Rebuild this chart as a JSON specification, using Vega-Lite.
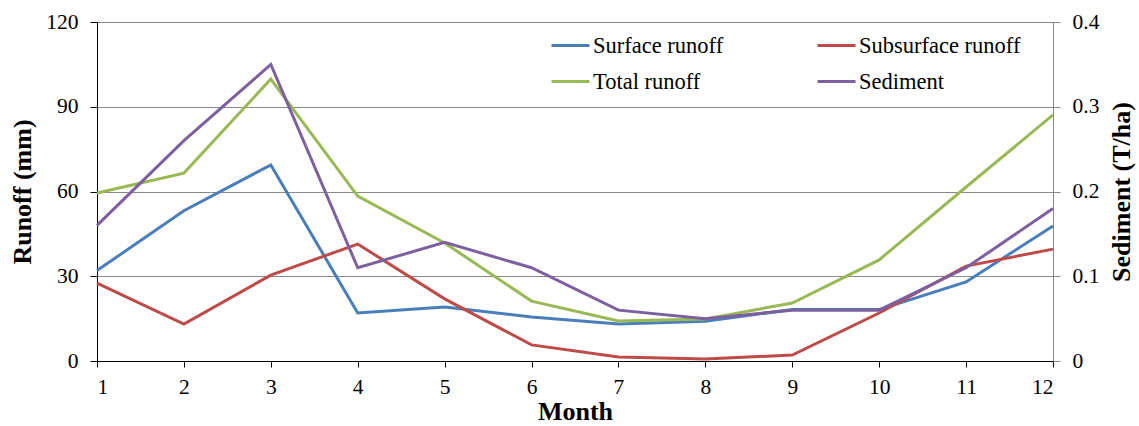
{
  "$schema": "https://vega.github.io/schema/vega-lite/v6.json",
  "autosize": "none",
  "width": 956,
  "height": 339,
  "padding": {"left": 97, "top": 22, "right": 86, "bottom": 65},
  "background": "white",
  "config": {
    "font": "Times New Roman, Liberation Serif, serif",
    "view": {"stroke": "#000000", "strokeWidth": 1},
    "axis": {"labelFont": "Times New Roman, Liberation Serif, serif", "titleFont": "Times New Roman, Liberation Serif, serif", "labelFontSize": 21.5, "titleFontSize": 26, "titleFontWeight": "bold", "labelColor": "#000", "titleColor": "#000", "labelFontWeight": "normal"},
    "legend": {"labelFont": "Times New Roman, Liberation Serif, serif", "labelFontSize": 22.5, "labelColor": "#000", "labelLimit": 400}
  },
  "data": {"values": [
    {"month": 1, "series": "Surface runoff", "value": 32},
    {"month": 2, "series": "Surface runoff", "value": 53.2},
    {"month": 3, "series": "Surface runoff", "value": 69.4},
    {"month": 4, "series": "Surface runoff", "value": 17},
    {"month": 5, "series": "Surface runoff", "value": 19.1},
    {"month": 6, "series": "Surface runoff", "value": 15.6},
    {"month": 7, "series": "Surface runoff", "value": 13.1},
    {"month": 8, "series": "Surface runoff", "value": 14.1},
    {"month": 9, "series": "Surface runoff", "value": 18.2},
    {"month": 10, "series": "Surface runoff", "value": 18.2},
    {"month": 11, "series": "Surface runoff", "value": 28},
    {"month": 12, "series": "Surface runoff", "value": 47.8},
    {"month": 1, "series": "Subsurface runoff", "value": 27.6},
    {"month": 2, "series": "Subsurface runoff", "value": 13.1},
    {"month": 3, "series": "Subsurface runoff", "value": 30.4},
    {"month": 4, "series": "Subsurface runoff", "value": 41.4},
    {"month": 5, "series": "Subsurface runoff", "value": 22},
    {"month": 6, "series": "Subsurface runoff", "value": 5.7},
    {"month": 7, "series": "Subsurface runoff", "value": 1.4},
    {"month": 8, "series": "Subsurface runoff", "value": 0.7},
    {"month": 9, "series": "Subsurface runoff", "value": 2.1},
    {"month": 10, "series": "Subsurface runoff", "value": 17},
    {"month": 11, "series": "Subsurface runoff", "value": 33.6},
    {"month": 12, "series": "Subsurface runoff", "value": 39.6},
    {"month": 1, "series": "Total runoff", "value": 59.5},
    {"month": 2, "series": "Total runoff", "value": 66.5},
    {"month": 3, "series": "Total runoff", "value": 99.8},
    {"month": 4, "series": "Total runoff", "value": 58.4},
    {"month": 5, "series": "Total runoff", "value": 41.8},
    {"month": 6, "series": "Total runoff", "value": 21.2},
    {"month": 7, "series": "Total runoff", "value": 14.2},
    {"month": 8, "series": "Total runoff", "value": 14.9},
    {"month": 9, "series": "Total runoff", "value": 20.5},
    {"month": 10, "series": "Total runoff", "value": 35.8},
    {"month": 11, "series": "Total runoff", "value": 61.6},
    {"month": 12, "series": "Total runoff", "value": 87.1},
    {"month": 1, "series": "Sediment", "value": 0.16},
    {"month": 2, "series": "Sediment", "value": 0.26},
    {"month": 3, "series": "Sediment", "value": 0.35},
    {"month": 4, "series": "Sediment", "value": 0.11},
    {"month": 5, "series": "Sediment", "value": 0.14},
    {"month": 6, "series": "Sediment", "value": 0.11},
    {"month": 7, "series": "Sediment", "value": 0.06},
    {"month": 8, "series": "Sediment", "value": 0.05},
    {"month": 9, "series": "Sediment", "value": 0.06},
    {"month": 10, "series": "Sediment", "value": 0.06},
    {"month": 11, "series": "Sediment", "value": 0.11},
    {"month": 12, "series": "Sediment", "value": 0.18}
  ]},
  "encoding": {
    "x": {"field": "month", "type": "quantitative", "scale": {"domain": [1, 12], "nice": false},
      "axis": {"title": "Month", "values": [1,2,3,4,5,6,7,8,9,10,11,12], "grid": false, "domainColor": "#000", "tickColor": "#000", "tickSize": 6, "labelPadding": 9, "titlePadding": 1, "format": "d"}},
    "color": {"field": "series", "type": "nominal",
      "scale": {"domain": ["Surface runoff", "Subsurface runoff", "Total runoff", "Sediment"], "range": ["#4a7ebb", "#be4b48", "#98b954", "#7d60a0"]},
      "legend": {"title": null, "orient": "none", "legendX": 453, "legendY": 3, "columns": 2, "direction": "horizontal", "symbolType": "stroke", "symbolSize": 1444, "symbolStrokeWidth": 3, "columnPadding": 87, "rowPadding": 4, "labelOffset": 2, "labelLimit": 400}}
  },
  "layer": [
    {
      "transform": [{"filter": "datum.series !== 'Sediment'"}],
      "mark": {"type": "line", "strokeWidth": 3},
      "encoding": {
        "y": {"field": "value", "type": "quantitative", "scale": {"domain": [0, 120], "nice": false},
          "axis": {"title": "Runoff (mm)", "orient": "left", "values": [0, 30, 60, 90, 120], "grid": true, "gridColor": "#888888", "gridWidth": 1, "domainColor": "#000", "tickColor": "#000", "tickSize": 7, "labelPadding": 12, "titlePadding": 10}}
      }
    },
    {
      "transform": [{"filter": "datum.series === 'Sediment'"}],
      "mark": {"type": "line", "strokeWidth": 3},
      "encoding": {
        "y": {"field": "value", "type": "quantitative", "scale": {"domain": [0, 0.4], "nice": false},
          "axis": {"title": "Sediment (T/ha)", "orient": "right", "values": [0, 0.1, 0.2, 0.3, 0.4], "format": ".1~f", "grid": false, "domainColor": "#888888", "tickColor": "#888888", "tickSize": 7, "labelPadding": 12, "titlePadding": 10, "titleAngle": 270, "titleBaseline": "top"}}
      }
    }
  ],
  "resolve": {"scale": {"y": "independent"}}
}
